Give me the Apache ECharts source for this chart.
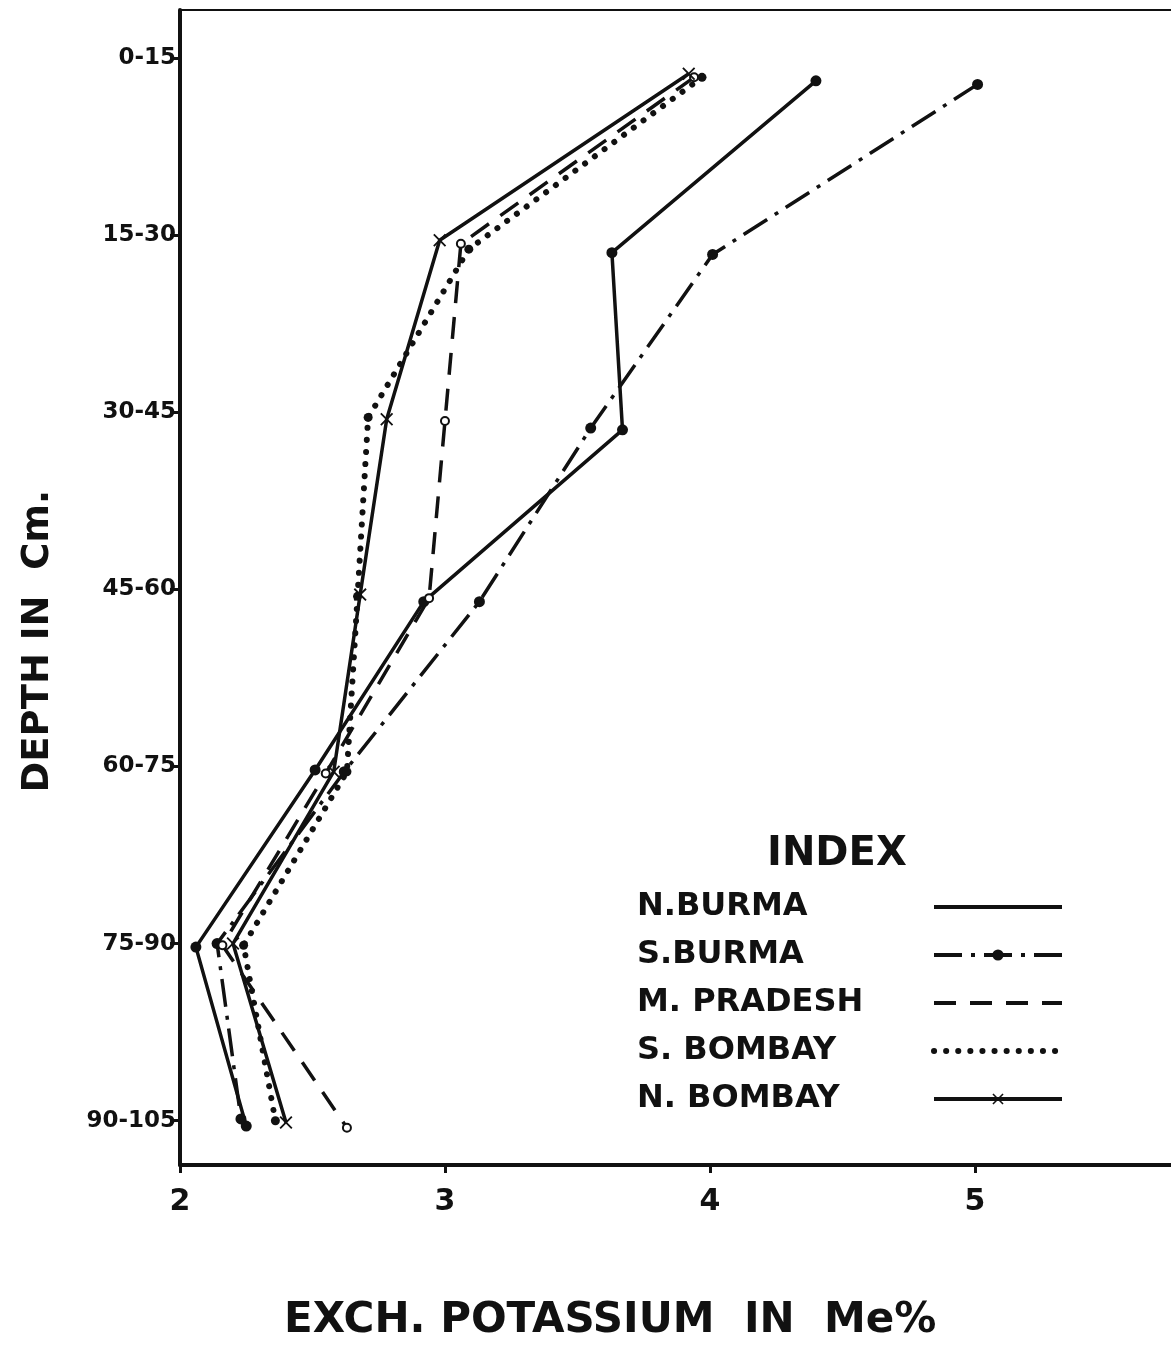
<!DOCTYPE html>
<html>
<head>
<meta charset="utf-8">
<script src="https://cdn.jsdelivr.net/npm/echarts@6/dist/echarts.min.js"></script>
<style>
html, body { margin: 0; padding: 0; background: #fff; }
#chart { width: 1171px; height: 1368px; }
</style>
</head>
<body>
<div id="chart"></div>
<script>
// depth classes (y axis, index 0..6 from top)
var depthLabels = ['0-15', '15-30', '30-45', '45-60', '60-75', '75-90', '90-105'];
var depthTicks = [0, 1, 2, 3, 4, 5, 6];
var potTicks = [2, 3, 4, 5];

var nBurmaK   = [4.40, 3.63, 3.67, 2.92, 2.51, 2.06, 2.25];
var nBurmaY   = [0.13, 1.10, 2.10, 3.07, 4.02, 5.02, 6.03];
var sBurmaK   = [5.01, 4.01, 3.55, 3.13, 2.62, 2.14, 2.23];
var sBurmaY   = [0.15, 1.11, 2.09, 3.07, 4.03, 5.00, 5.99];
var mPradeshK = [3.94, 3.06, 3.00, 2.94, 2.55, 2.16, 2.63];
var mPradeshY = [0.11, 1.05, 2.05, 3.05, 4.04, 5.01, 6.04];
var sBombayK  = [3.97, 3.09, 2.71, 2.67, 2.63, 2.24, 2.36];
var sBombayY  = [0.11, 1.08, 2.03, 3.04, 4.03, 5.01, 6.00];
var nBombayK  = [3.92, 2.98, 2.78, 2.68, 2.58, 2.20, 2.40];
var nBombayY  = [0.09, 1.03, 2.04, 3.03, 4.03, 5.00, 6.01];

function pairs(k, y) {
	var out = [];
	for (var i = 0; i < k.length; i++) {
		out.push([k[i], y[i]]);
	}
	return out;
}

var ink = '#111';
var crossPath = 'path://M0,1L1,0L5,4L9,0L10,1L6,5L10,9L9,10L5,6L1,10L0,9L4,5Z';
var font = 'DejaVu Sans';

var chart = echarts.init(document.getElementById('chart'));

var option = {
	backgroundColor: '#fff',
	animation: false,
	title: {
		text: 'INDEX',
		left: 762,
		top: 830,
		textStyle: { fontFamily: font, fontSize: 40, fontWeight: 'bold', color: ink }
	},
	grid: { left: 180, right: 0, top: 10, bottom: 203, containLabel: false },
	legend: {
		orient: 'vertical',
		left: 632,
		top: 884,
		align: 'right',
		itemWidth: 128,
		itemHeight: 14,
		itemGap: 12,
		formatter: '{a|{name}}',
		textStyle: {
			fontFamily: font, fontSize: 32, fontWeight: 'bold', color: ink, lineHeight: 36,
			rich: {
				a: { width: 292, align: 'left', fontFamily: font, fontSize: 32, fontWeight: 'bold', color: ink, lineHeight: 36 }
			}
		},
		data: [
			{ name: 'N.BURMA', itemStyle: { opacity: 0 }, lineStyle: { width: 4 } },
			{ name: 'S.BURMA', lineStyle: { width: 4 } },
			{ name: 'M. PRADESH', itemStyle: { opacity: 0 }, lineStyle: { width: 4 } },
			{ name: 'S. BOMBAY', itemStyle: { opacity: 0 }, lineStyle: { width: 6 } },
			{ name: 'N. BOMBAY', lineStyle: { width: 4 } }
		]
	},
	xAxis: [{
		type: 'value',
		min: 2,
		max: 5.74,
		splitLine: { show: false },
		axisLine: { onZero: false, lineStyle: { color: ink, width: 4 } },
		axisTick: { customValues: potTicks, length: 8, lineStyle: { color: ink, width: 3 } },
		axisLabel: {
			customValues: potTicks,
			margin: 22,
			fontFamily: font, fontSize: 30, fontWeight: 'bold', color: ink
		}
	}, {
		type: 'value',
		position: 'top',
		min: 2,
		max: 5.74,
		splitLine: { show: false },
		axisLine: { onZero: false, lineStyle: { color: ink, width: 2 } },
		axisTick: { show: false },
		axisLabel: { show: false }
	}],
	yAxis: {
		type: 'value',
		inverse: true,
		min: -0.27,
		max: 6.25,
		splitLine: { show: false },
		axisLine: { onZero: false, lineStyle: { color: ink, width: 4 } },
		axisTick: { customValues: depthTicks, length: 10, lineStyle: { color: ink, width: 3 } },
		axisLabel: {
			customValues: depthTicks,
			margin: 4,
			fontFamily: font, fontSize: 23, fontWeight: 'bold', color: ink,
			formatter: function (v) { return depthLabels[Math.round(v)]; }
		}
	},
	graphic: [{
		type: 'text',
		left: 20,
		top: 490,
		rotation: Math.PI / 2,
		style: {
			text: 'DEPTH IN  Cm.',
			font: 'bold 37px "DejaVu Sans"',
			fill: ink
		}
	}, {
		type: 'text',
		left: 284,
		top: 1300,
		style: {
			text: 'EXCH. POTASSIUM  IN  Me%',
			font: 'bold 42px "DejaVu Sans"',
			fill: ink
		}
	}],
	series: [{
		name: 'N.BURMA',
		type: 'line',
		data: pairs(nBurmaK, nBurmaY),
		symbol: 'circle',
		symbolSize: 11,
		itemStyle: { color: ink },
		lineStyle: { color: ink, width: 3.5, type: 'solid' }
	}, {
		name: 'S.BURMA',
		type: 'line',
		data: pairs(sBurmaK, sBurmaY),
		symbol: 'circle',
		symbolSize: 11,
		itemStyle: { color: ink },
		lineStyle: { color: ink, width: 3.5, type: [28, 9, 4, 9] }
	}, {
		name: 'M. PRADESH',
		type: 'line',
		data: pairs(mPradeshK, mPradeshY),
		symbol: 'emptyCircle',
		symbolSize: 8,
		itemStyle: { color: ink, borderWidth: 2 },
		lineStyle: { color: ink, width: 3.5, type: [22, 14] }
	}, {
		name: 'S. BOMBAY',
		type: 'line',
		data: pairs(sBombayK, sBombayY),
		symbol: 'circle',
		symbolSize: 9,
		itemStyle: { color: ink },
		lineStyle: { color: ink, width: 6, type: [0.1, 12], cap: 'round' }
	}, {
		name: 'N. BOMBAY',
		type: 'line',
		data: pairs(nBombayK, nBombayY),
		symbol: crossPath,
		symbolSize: 13,
		itemStyle: { color: ink },
		lineStyle: { color: ink, width: 3.5, type: 'solid' }
	}]
};

chart.setOption(option);
</script>
</body>
</html>
